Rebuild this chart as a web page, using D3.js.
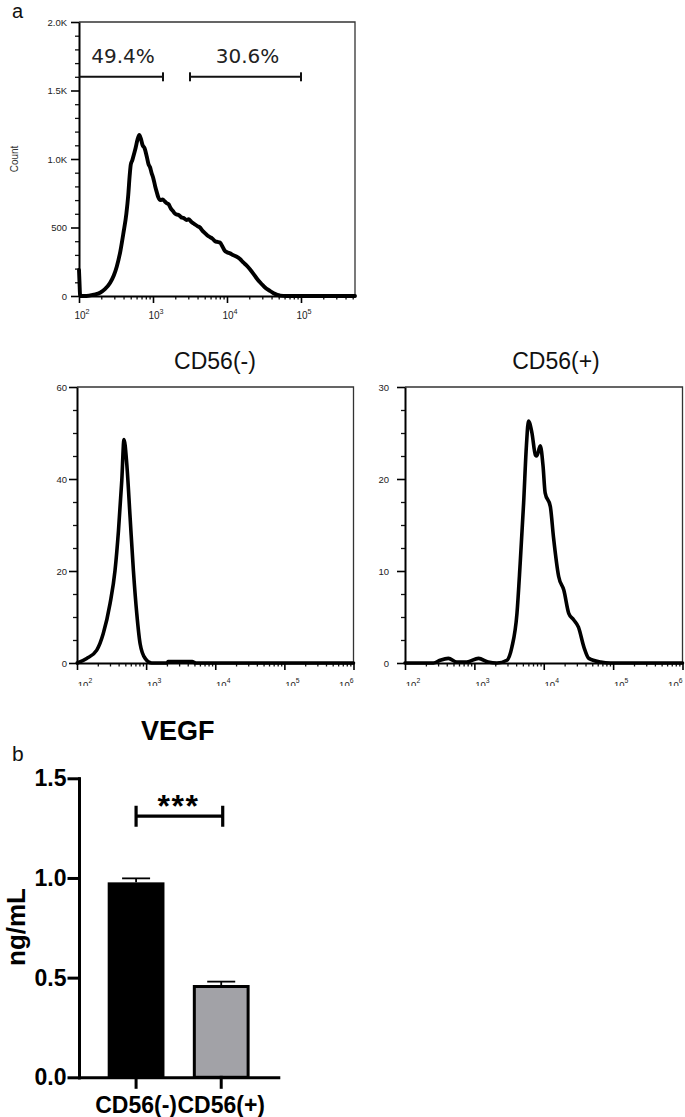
<!DOCTYPE html>
<html><head><meta charset="utf-8">
<script src="https://cdn.jsdelivr.net/npm/d3@7"></script>
<style>body{margin:0;background:#fff}</style>
</head><body>
<svg id="c" width="685" height="1117" xmlns="http://www.w3.org/2000/svg"></svg>
<script>
// ---------- DATA ----------
// histogram points: [log10(fluorescence intensity), count]
const allCellsHist = [[2.0,190],[2.006,110],[2.016,0],[2.1,0],[2.2,10],[2.284,24],[2.35,50],[2.419,95],[2.47,150],[2.51,214],[2.56,330],[2.60,458],[2.64,600],[2.666,740],[2.685,880],[2.70,960],[2.72,990],[2.74,1030],[2.765,1080],[2.79,1140],[2.815,1175],[2.835,1150],[2.86,1100],[2.885,1080],[2.915,1020],[2.94,960],[2.96,940],[2.98,900],[3.004,860],[3.03,800],[3.05,760],[3.072,720],[3.10,700],[3.13,705],[3.16,690],[3.185,677],[3.21,670],[3.24,640],[3.27,620],[3.30,600],[3.32,595],[3.35,590],[3.38,575],[3.41,570],[3.455,555],[3.48,560],[3.52,540],[3.56,525],[3.60,510],[3.635,500],[3.67,475],[3.70,460],[3.74,440],[3.77,430],[3.80,420],[3.84,400],[3.87,395],[3.905,390],[3.94,360],[3.97,330],[4.0,320],[4.04,311],[4.08,300],[4.12,290],[4.176,270],[4.22,245],[4.26,225],[4.31,195],[4.36,160],[4.40,130],[4.446,100],[4.49,75],[4.53,55],[4.58,38],[4.63,20],[4.68,8],[4.72,3],[4.8,0],[5.73,0]];
const cd56NegHist = [[2.004,0],[2.14,1],[2.286,2.8],[2.38,6.4],[2.478,12.9],[2.55,20.1],[2.6,28.8],[2.648,39.7],[2.68,48.6],[2.72,43.3],[2.768,31.7],[2.816,20.1],[2.865,10.7],[2.913,4.2],[2.986,1],[3.08,0],[3.3,0],[3.32,0.3],[3.667,0.3],[3.72,0],[6.0,0]];
const cd56PosHist = [[2.0,0],[2.41,0],[2.506,0.3],[2.626,0.5],[2.747,0.1],[2.89,0.1],[3.06,0.5],[3.2,0.1],[3.325,0],[3.47,0.3],[3.54,1.7],[3.614,5.4],[3.66,10.8],[3.71,17.4],[3.75,23.6],[3.78,26.3],[3.83,25],[3.88,22.6],[3.9,22.5],[3.95,23.6],[3.99,21.4],[4.02,18.5],[4.095,17],[4.14,13.7],[4.215,9.4],[4.29,7.9],[4.36,5.4],[4.43,4.7],[4.5,3.9],[4.58,1.7],[4.65,0.5],[4.82,0.1],[4.96,0],[6.0,0]];

const gateLabels = ["49.4%", "30.6%"];
const gateStartLog = [2.0, 3.5];
const gateEndLog = [3.135, 5.0];
const gateLevel = 1600;

const topYTicks = [0, 500, 1000, 1500, 2000];
const topYTickLabels = ["0", "500", "1.0K", "1.5K", "2.0K"];
const negYTicks = [0, 20, 40, 60];
const posYTicks = [0, 10, 20, 30];
const panelTitles = ["CD56(-)", "CD56(+)"];

const barCategories = ["CD56(-)", "CD56(+)"];
const barMeans = [0.978, 0.463];
const barErrors = [0.02, 0.017];
const barColors = ["#000000", "#a2a2a7"];
const barYTicks = [0, 0.5, 1.0, 1.5];
const sigLevel = 1.31;
const sigLabel = "***";

// ---------- DRAW ----------
const svg = d3.select("#c");
const ARIAL = "'Liberation Sans', Arial, sans-serif";

svg.append("defs").append("clipPath").attr("id","lowclip")
  .append("rect").attr("x",0).attr("y",0).attr("width",685).attr("height",686);

function drawFlow(o){
  const g = svg.append("g");
  const x = d3.scaleLog().domain(o.xDomain).range([o.left, o.right]);
  const y = d3.scaleLinear().domain(o.yDomain).range([o.bottom, o.top]);

  g.append("path").attr("d", `M${o.left},${o.top}H${o.right}V${o.bottom}`)
    .attr("fill","none").attr("stroke","#333").attr("stroke-width",1.3);

  const minorY = d3.range(o.yDomain[0], o.yDomain[1] + 1e-9, o.yMinor).filter(v => !o.yTicks.includes(v));
  g.append("g").attr("transform", `translate(${o.left},0)`)
    .call(d3.axisLeft(y).tickValues(minorY).tickSize(4).tickFormat(""))
    .call(s => { s.select(".domain").remove(); s.selectAll("line").attr("stroke","#111").attr("stroke-width",1.3); });
  const ya = g.append("g").attr("transform", `translate(${o.left},0)`)
    .call(d3.axisLeft(y).tickValues(o.yTicks).tickFormat((d,i) => o.yLabels[i]).tickSize(8).tickSizeOuter(0).tickPadding(o.yPad));
  ya.select(".domain").attr("stroke","#000").attr("stroke-width",2);
  ya.selectAll("line").attr("stroke","#000").attr("stroke-width",1.6);
  ya.selectAll("text").attr("font-family", ARIAL).attr("font-size", 9.5).attr("fill","#222");

  const lo = Math.floor(Math.log10(o.xDomain[0])), hi = Math.ceil(Math.log10(o.xDomain[1]));
  const minorX = [];
  for (let e = lo; e < hi; e++) for (let k = 2; k <= 9; k++) {
    const v = k * Math.pow(10, e);
    if (v >= o.xDomain[0] && v <= o.xDomain[1]) minorX.push(v);
  }
  const majorX = d3.range(lo, hi + 1).map(e => Math.pow(10, e)).filter(v => v >= o.xDomain[0]*0.999 && v <= o.xDomain[1]*1.001);
  g.append("g").attr("transform", `translate(0,${o.bottom})`)
    .call(d3.axisBottom(x).tickValues(minorX).tickSize(3.5).tickFormat(""))
    .call(s => { s.select(".domain").remove(); s.selectAll("line").attr("stroke","#111").attr("stroke-width",1.3); });
  const xa = g.append("g").attr("transform", `translate(0,${o.bottom})`)
    .call(d3.axisBottom(x).tickValues(majorX).tickSize(7).tickSizeOuter(0).tickFormat(""));
  xa.select(".domain").attr("stroke","#000").attr("stroke-width",2);
  xa.selectAll("line").attr("stroke","#000").attr("stroke-width",1.6);
  const lab = g.append("g");
  if (o.clipLabels) lab.attr("clip-path","url(#lowclip)");
  majorX.forEach((v, i) => {
    const last = i === majorX.length - 1 && o.lastEnd;
    const t = lab.append("text").attr("x", x(v) + (last ? 0 : o.xLabShift))
      .attr("y", o.bottom + o.xLabDy).attr("text-anchor", last ? "end" : "middle")
      .attr("font-family", ARIAL).attr("font-size", o.xLabSize).attr("fill","#222");
    t.append("tspan").text("10");
    t.append("tspan").attr("dy", -5).attr("font-size", o.xLabSize * 0.72).text(Math.round(Math.log10(v)));
  });

  const line = d3.line().x(d => x(Math.pow(10, d[0]))).y(d => y(d[1])).curve(d3.curveMonotoneX);
  g.append("path").datum(o.data).attr("d", line).attr("fill","none")
    .attr("stroke","#000").attr("stroke-width",o.lineW).attr("stroke-linejoin","round").attr("stroke-linecap","round");
  return {g, x, y};
}

// Panel a - all cells
const p1 = drawFlow({left:79, right:355, top:22, bottom:296, xDomain:[100, Math.pow(10,5.73)],
  yDomain:[0,2000], yTicks: topYTicks, yLabels: topYTickLabels, yMinor:100, yPad:4,
  data: allCellsHist, xLabShift:3, xLabDy:23, xLabSize:10, clipLabels:false, lastEnd:false, lineW:3.9});

gateLabels.forEach((lbl, i) => {
  const x0 = p1.x(Math.pow(10, gateStartLog[i])), x1 = p1.x(Math.pow(10, gateEndLog[i])), yy = p1.y(gateLevel);
  const gg = p1.g.append("g").attr("stroke","#111").attr("stroke-width",2);
  gg.append("line").attr("x1",x0).attr("x2",x1).attr("y1",yy).attr("y2",yy);
  if (i > 0) gg.append("line").attr("x1",x0).attr("x2",x0).attr("y1",yy-4.5).attr("y2",yy+4.5);
  gg.append("line").attr("x1",x1).attr("x2",x1).attr("y1",yy-4.5).attr("y2",yy+4.5);
  p1.g.append("text").attr("x",(x0+x1)/2 + 2).attr("y", yy - 13.5).attr("text-anchor","middle")
    .attr("font-family","'DejaVu Sans', Verdana, sans-serif").attr("font-size",20).attr("fill","#222").text(lbl);
});

svg.append("text").attr("transform","translate(18,159) rotate(-90)").attr("text-anchor","middle")
  .attr("font-family", ARIAL).attr("font-size",10).attr("fill","#333").text("Count");
svg.append("text").attr("x",12).attr("y",18.3).attr("font-family", ARIAL).attr("font-size",20).attr("fill","#111").text("a");

// Panels CD56(-), CD56(+)
const p2 = drawFlow({left:77, right:353.5, top:387, bottom:663, xDomain:[100, 1e6],
  yDomain:[0,60], yTicks: negYTicks, yLabels: negYTicks.map(String), yMinor:5, yPad:2,
  data: cd56NegHist, xLabShift:8, xLabDy:25, xLabSize:9.5, clipLabels:true, lastEnd:true, lineW:3.6});
const p3 = drawFlow({left:405, right:682.5, top:387, bottom:663, xDomain:[100, 1e6],
  yDomain:[0,30], yTicks: posYTicks, yLabels: posYTicks.map(String), yMinor:2.5, yPad:8,
  data: cd56PosHist, xLabShift:8, xLabDy:25, xLabSize:9.5, clipLabels:true, lastEnd:true, lineW:3.6});

[[p2, 215], [p3, 556]].forEach(([p, cx], i) => {
  svg.append("text").attr("x", cx).attr("y", 369).attr("text-anchor","middle")
    .attr("font-family", ARIAL).attr("font-size", 23).attr("fill","#111").text(panelTitles[i]);
});

// ---------- Panel b: bar chart ----------
const bAxisLeft = 79, bAxisRight = 278.3, bTop = 778.3, bBottom = 1077.3;
const by = d3.scaleLinear().domain([0, 1.5]).range([bBottom, bTop]);
const bx = d3.scaleBand().domain(barCategories).range([bAxisLeft, bAxisRight]).paddingInner(0.333).paddingOuter(0.337);
const bg = svg.append("g");

barCategories.forEach((c, i) => {
  const x0 = bx(c), w = bx.bandwidth();
  bg.append("rect").attr("x", x0 + 1.5).attr("y", by(barMeans[i]) + 1.5)
    .attr("width", w - 3).attr("height", by(0) - by(barMeans[i]) - 1.5)
    .attr("fill", barColors[i]).attr("stroke","#000").attr("stroke-width",3);
  const cx = x0 + w / 2, yt = by(barMeans[i] + barErrors[i]);
  bg.append("line").attr("x1",cx).attr("x2",cx).attr("y1",by(barMeans[i])).attr("y2",yt).attr("stroke","#000").attr("stroke-width",1.8);
  bg.append("line").attr("x1",cx-14).attr("x2",cx+14).attr("y1",yt).attr("y2",yt).attr("stroke","#000").attr("stroke-width",1.8);
});

const yAx = bg.append("g").attr("transform", `translate(${bAxisLeft},0)`)
  .call(d3.axisLeft(by).tickValues(barYTicks).tickFormat(d3.format(".1f")).tickSize(10).tickSizeOuter(0).tickPadding(2.5));
yAx.selectAll("path,line").attr("stroke","#000").attr("stroke-width",3).attr("stroke-linecap","square");
yAx.selectAll("text").attr("font-family", ARIAL).attr("font-weight","bold").attr("font-size",23).attr("fill","#000");

const xAx = bg.append("g").attr("transform", `translate(0,${bBottom})`)
  .call(d3.axisBottom(bx).tickSize(10).tickSizeOuter(0).tickPadding(9.5));
xAx.selectAll("path,line").attr("stroke","#000").attr("stroke-width",3).attr("stroke-linecap","square");
xAx.selectAll("text").attr("font-family", ARIAL).attr("font-weight","bold").attr("font-size",23).attr("fill","#000");

const sx0 = bx(barCategories[0]) + bx.bandwidth()/2, sx1 = bx(barCategories[1]) + bx.bandwidth()/2 + 1.5, sy = by(sigLevel);
bg.append("path").attr("d", `M${sx0},${sy-10.5}V${sy+10.5}M${sx0},${sy}H${sx1}M${sx1},${sy-10.5}V${sy+10.5}`)
  .attr("fill","none").attr("stroke","#000").attr("stroke-width",3.2);
bg.append("text").attr("x",(sx0+sx1)/2 - 1).attr("y", sy + 1).attr("text-anchor","middle")
  .attr("font-family", ARIAL).attr("font-weight","bold").attr("font-size",32).attr("letter-spacing",1.5).attr("fill","#000").text(sigLabel);

svg.append("text").attr("x",177.7).attr("y",740).attr("text-anchor","middle")
  .attr("font-family", ARIAL).attr("font-weight","bold").attr("font-size",27).attr("fill","#000").text("VEGF");
svg.append("text").attr("x",12).attr("y",761).attr("font-family", ARIAL).attr("font-size",21).attr("fill","#111").text("b");
svg.append("text").attr("transform","translate(25,927) rotate(-90)").attr("text-anchor","middle")
  .attr("font-family", ARIAL).attr("font-weight","bold").attr("font-size",26).attr("fill","#000").text("ng/mL");
</script>
</body></html>
